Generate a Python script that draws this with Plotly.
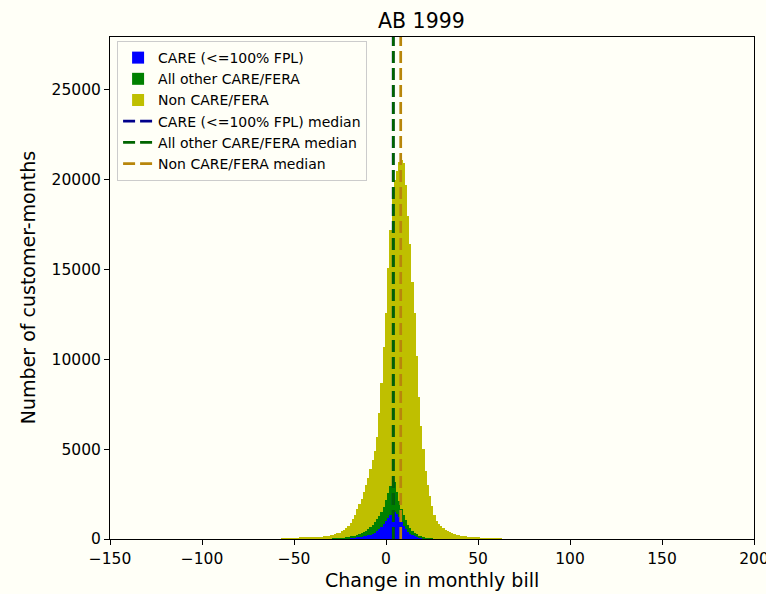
import numpy as np
import plotly.graph_objects as go

# ---- data ----
bin_width = 1.2
bin_start = -57.0
n_bins = 100

care_counts = [0] * 22 + [
    10, 15, 15, 20, 25, 30, 35, 40, 50, 60, 70, 80, 95, 110, 130, 150, 175, 205, 240, 290,
    350, 430, 530, 660, 820, 1000, 1180, 1330, 1450, 1500, 1420, 1200, 950, 720, 540, 400,
    300, 230, 170, 130, 100, 70, 50, 35, 25, 15, 10, 5] + [0] * 30

other_counts = [0] * 22 + [
    15, 15, 20, 25, 30, 35, 45, 55, 65, 80, 95, 115, 135, 160, 190, 230, 275, 335, 410, 490,
    580, 670, 770, 840, 980, 1150, 1370, 1620, 1850, 1650, 1180, 900, 700, 630, 510, 400,
    320, 240, 180, 130, 90, 70, 50, 40, 30, 25, 20, 15, 10] + [0] * 29

non_counts = [
    40, 40, 45, 45, 50, 50, 55, 55, 60, 60, 65, 65, 70, 75, 80, 90, 100, 110, 120, 140, 160, 180,
    175, 200, 235, 265, 305, 355, 420, 505, 605, 760, 935, 1155, 1420, 1680, 1930, 2220, 2550,
    2860, 3250, 3620, 3970, 4600, 5700, 7200, 8900, 10450, 12550, 14250, 15900, 16850, 17900,
    18900, 19450, 19600, 18650, 17200, 15780, 13830, 12250, 9940, 7710, 6160, 4900, 3725, 2945,
    2360, 1820, 1330, 990,
    850, 720, 620, 520, 440, 380, 320, 280, 250, 220, 190, 160, 140, 120, 100, 90, 80, 70, 60,
    55, 50, 45, 40, 35, 30, 30, 25, 25, 20]

series_names = ["CARE (<=100% FPL)", "All other CARE/FERA", "Non CARE/FERA"]
median_values = [3.9, 4.0, 8.0]
x_ticks = [-150, -100, -50, 0, 50, 100, 150, 200]
y_ticks = [0, 5000, 10000, 15000, 20000, 25000]
x_range = [-150, 200]
y_range = [0, 27950]

bin_centers = bin_start + bin_width * (np.arange(n_bins) + 0.5)

# ---- styles ----
bg = "#fffff7"
font_family = "DejaVu Sans, Liberation Sans, sans-serif"
bar_colors = ["#0000ff", "#008000", "#bfbf00"]
median_colors = ["#00008b", "#006400", "#b8860b"]

fig = go.Figure()
for name, counts, col in zip(series_names, [care_counts, other_counts, non_counts], bar_colors):
    fig.add_trace(go.Bar(
        x=bin_centers, y=counts, width=bin_width, name=name,
        marker=dict(color=col, line=dict(width=0)),
    ))

for name, med, col in zip(series_names, median_values, median_colors):
    fig.add_trace(go.Scatter(
        x=[med, med], y=y_range, mode="lines", name=name + " median",
        line=dict(color=col, width=2.7, dash="12px,5px"),
    ))

fig.update_layout(
    width=766, height=594,
    margin=dict(l=110, r=12, t=37, b=55),
    paper_bgcolor=bg, plot_bgcolor=bg,
    barmode="stack", bargap=0,
    font=dict(family=font_family, color="#000000"),
    showlegend=True,
    legend=dict(
        x=0.011, y=0.992, xanchor="left", yanchor="top",
        bgcolor=bg, bordercolor="#cccccc", borderwidth=1,
        font=dict(size=14, family=font_family), traceorder="normal",
        tracegroupgap=0,
    ),
    annotations=[
        dict(text="AB 1999", x=0.483, y=1.032, xref="paper", yref="paper",
             showarrow=False, font=dict(size=20.5), xanchor="center", yanchor="middle"),
        dict(text="Change in monthly bill", x=0.5, y=-0.082, xref="paper", yref="paper",
             showarrow=False, font=dict(size=19), xanchor="center", yanchor="middle"),
        dict(text="Number of customer-months", x=-0.127, y=0.5, xref="paper", yref="paper",
             showarrow=False, font=dict(size=19), textangle=-90,
             xanchor="center", yanchor="middle"),
    ],
)

axis_common = dict(
    showgrid=False, zeroline=False, showline=True, linecolor="black", linewidth=1,
    mirror=True, ticks="outside", ticklen=5, tickcolor="black", tickwidth=1,
    tickfont=dict(size=15.5, family=font_family), automargin=False,
    ticklabeloverflow="allow",
)
fig.update_xaxes(range=x_range, tickvals=x_ticks, **axis_common)
fig.update_yaxes(range=y_range, tickvals=y_ticks, tickformat="d", **axis_common)

fig.write_html(
    "out.html",
    config={"displayModeBar": False},
    post_script="document.body.style.margin='0px';document.body.style.background='%s';" % bg,
)
